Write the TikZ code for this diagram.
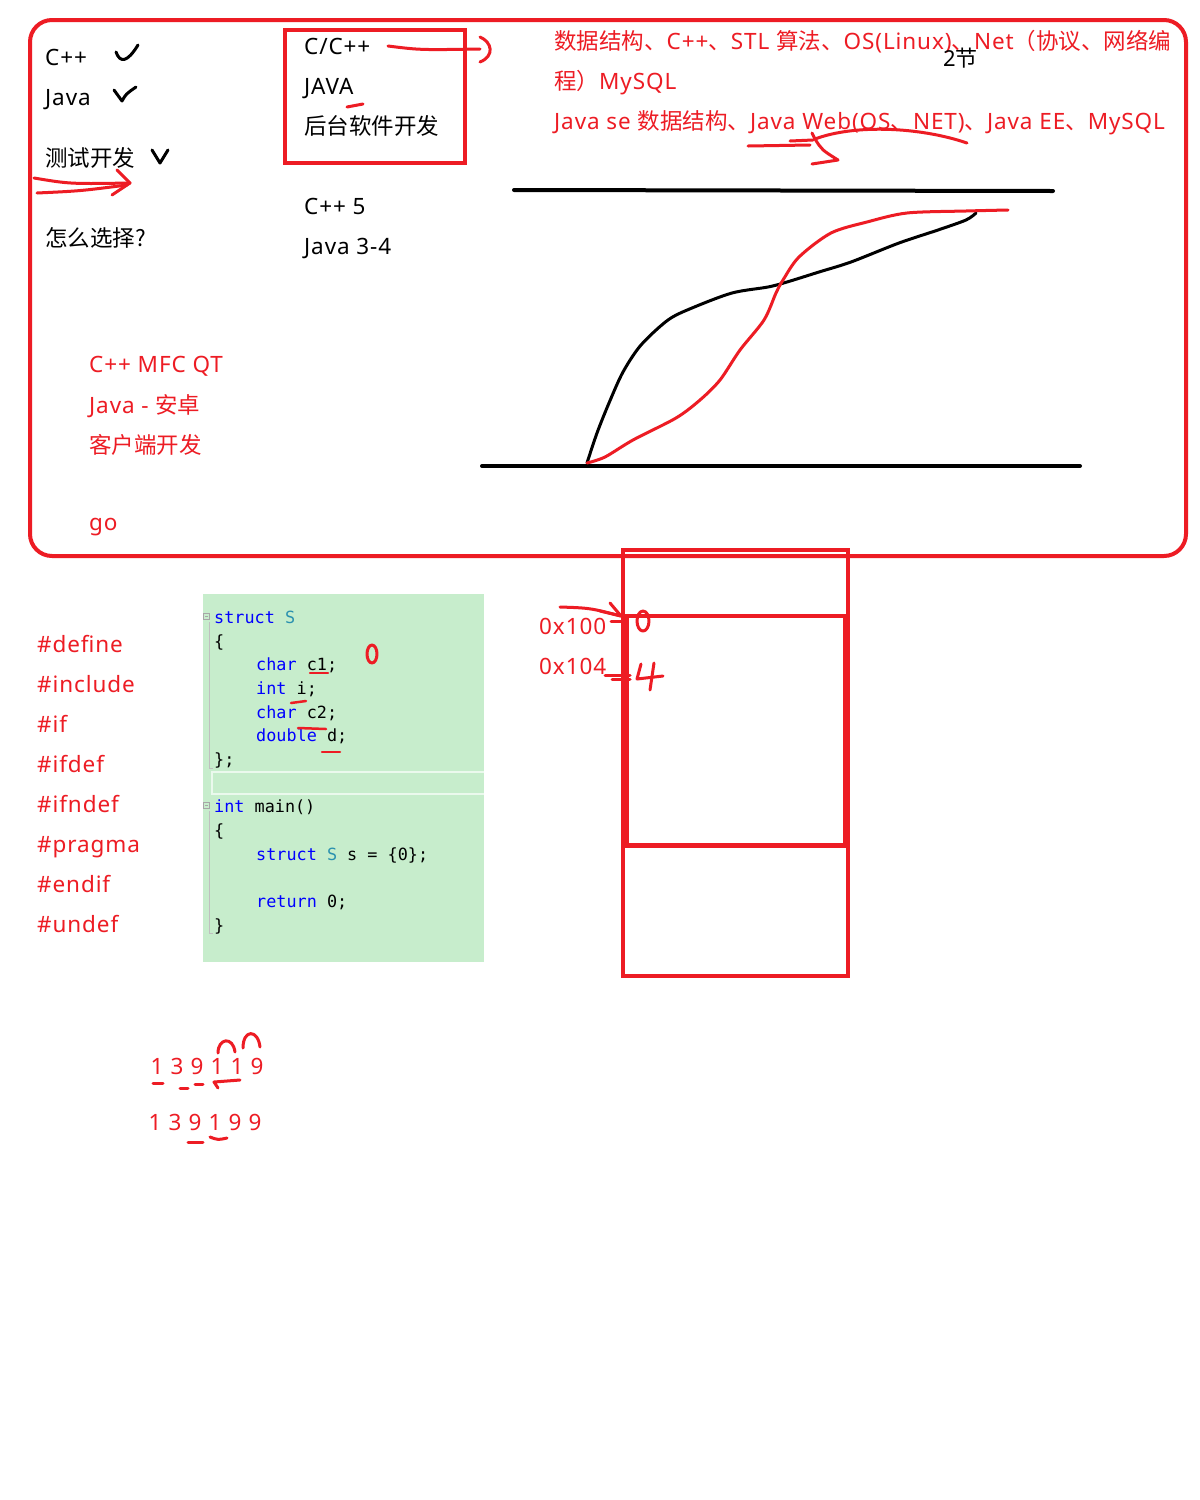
\documentclass[tikz,border=0pt]{standalone}
\usepackage{fontspec}
\setmainfont{Noto Sans}[LetterSpace=4]
\setmonofont{DejaVu Sans Mono}
\newfontfamily\cjk{Noto Sans CJK SC}
\newcommand{\zh}[1]{{\cjk #1}}
\usetikzlibrary{positioning}

\definecolor{inkred}{HTML}{ED1C24}
\definecolor{codebg}{HTML}{C7EDCC}
\definecolor{kwblue}{HTML}{0000FF}
\definecolor{typeteal}{HTML}{2B91AF}

\begin{document}
\begin{tikzpicture}[
    x=1pt, y=-1pt,
    txt/.style={anchor=base west, inner sep=0pt, font=\fontsize{22.5}{27}\selectfont},
    redtxt/.style={txt, text=inkred},
    codetxt/.style={anchor=base west, inner sep=0pt, font=\ttfamily\fontsize{16.8}{20}\selectfont},
    redpen/.style={draw=inkred, line width=3pt, line cap=round, line join=round},
    blackpen/.style={draw=black, line width=3pt, line cap=round, line join=round},
    redframe/.style={draw=inkred, line width=4pt}
]
\fill[white] (0,0) rectangle (1200,1500);
\useasboundingbox (0,0) rectangle (1200,1500);

% big board
\draw[redframe, rounded corners=22pt] (30,20) rectangle (1186,556);

% left column
\node[txt] (cpp) at (45,65) {C++};
\node[txt] (java) at (45,105) {Java};
\node[txt] (ceshi) at (45,166) {\zh{测试开发}};
\node[txt] (choose) at (45,246) {\zh{怎么选择?}};
\draw[blackpen] (116,52) .. controls (120,63) and (127,63) .. (138,45);
\draw[blackpen] (114,90) -- (122,101) .. controls (126,94) .. (136,87);
\draw[blackpen] (152,150) -- (160,163) -- (168,150);
\draw[redpen] (34,178) .. controls (70,184) .. (130,183);
\draw[redpen] (37,193) .. controls (80,191) .. (127,185);
\draw[redpen] (117,170) -- (130,183) -- (112,195);

% backend box
\draw[redframe] (285,30) rectangle (465,163);
\node[txt] (cc) at (304,54) {C/C++};
\node[txt] (jv) at (304,94) {JAVA};
\node[txt] (backend) at (304,134) {\zh{后台软件开发}};
\coordinate (ccend) at (480,49);
\draw[redpen] (388,46) .. controls (420,50) .. (ccend);
\draw[redpen] (480,37) .. controls (492,42) and (495,56) .. (480,62);
\draw[redpen] (347,107) -- (363,104);
\node[txt] (cpp5) at (304,214) {C++ 5};
\node[txt] (java34) at (304,254) {Java 3-4};

% topics
\begin{scope}
\clip (0,0) rectangle (1186,200);
\node[redtxt] (cline1) at (554,49) {\zh{数据结构、}C++\zh{、}STL \zh{算法、}OS(Linux)\zh{、}Net\zh{（协议、网络编}};
\end{scope}
\node[redtxt] (cline2) at (554,89) {\zh{程）}MySQL};
\node[redtxt] (jline) at (554,129) {Java se \zh{数据结构、}Java Web(OS\zh{、}NET)\zh{、}Java EE\zh{、}MySQL};
\node[txt, font=\fontsize{22}{26}\selectfont] (jie) at (943,66) {2\zh{节}};
\draw[redpen] (748,146) -- (810,145);
\draw[redpen] (790,141) -- (813,140);
\draw[redpen] (812,133) -- (815,139) .. controls (855,124) and (920,127) .. (967,143);
\draw[redpen] (815,139) .. controls (822,150) .. (838,160) -- (812,164);

% curves
\draw[blackpen, line width=4pt] (514,190) -- (1053,191);
\draw[blackpen, line width=4pt] (482,466) -- (1080,466);
\draw[blackpen] plot[smooth] coordinates {(587,463) (597,433) (609,403) (623,372) (641,345) (668,320) (692,308) (732,293) (768,287) (787,282) (819,272) (851,262) (899,243) (938,230) (966,220) (976,213)};
\draw[redpen] plot[smooth] coordinates {(587,463) (605,457) (633,440) (676,418) (700,400) (720,380) (740,350) (764,320) (776,293) (783,280) (799,257) (831,233) (867,222) (907,213) (966,211) (1008,210)};

% client side
\node[redtxt] (mfc) at (89,372) {C++ MFC QT};
\node[redtxt] (android) at (89,413) {Java - \zh{安卓}};
\node[redtxt] (client) at (89,453) {\zh{客户端开发}};
\node[redtxt] (golang) at (89,530) {go};

% directives
\node[redtxt] (d1) at (37,652) {\#define};
\node[redtxt] (d2) at (37,692) {\#include};
\node[redtxt] (d3) at (37,732) {\#if};
\node[redtxt] (d4) at (37,772) {\#ifdef};
\node[redtxt] (d5) at (37,812) {\#ifndef};
\node[redtxt] (d6) at (37,852) {\#pragma};
\node[redtxt] (d7) at (37,892) {\#endif};
\node[redtxt] (d8) at (37,932) {\#undef};

% code
\fill[codebg] (203,594) rectangle (484,962);
\draw[white!65!codebg, line width=2pt] (484,772) -- (212,772) -- (212,794) -- (484,794);
\draw[gray!70, line width=0.8pt] (203.5,613.5) rectangle (209.5,619.5) (205,616.5) -- (208,616.5);
\draw[gray!70, line width=0.8pt] (203.5,802.5) rectangle (209.5,808.5) (205,805.5) -- (208,805.5);
\draw[gray!50, line width=0.8pt] (209,622) -- (209,768) -- (213,768);
\draw[gray!50, line width=0.8pt] (209,811) -- (209,933) -- (213,933);
\node[codetxt, text=kwblue] (l0) at (214,623) {struct \textcolor{typeteal}{S}};
\node[codetxt] (l1) at (214,647) {\{};
\node[codetxt] (l2) at (256,670) {\textcolor{kwblue}{char} c1;};
\node[codetxt] (l3) at (256,694) {\textcolor{kwblue}{int} i;};
\node[codetxt] (l4) at (256,718) {\textcolor{kwblue}{char} c2;};
\node[codetxt] (l5) at (256,741) {\textcolor{kwblue}{double} d;};
\node[codetxt] (l6) at (214,765) {\};};
\node[codetxt] (l8) at (214,812) {\textcolor{kwblue}{int} main()};
\node[codetxt] (l9) at (214,836) {\{};
\node[codetxt] (l10) at (256,860) {\textcolor{kwblue}{struct} \textcolor{typeteal}{S} s = \{0\};};
\node[codetxt] (l12) at (256,907) {\textcolor{kwblue}{return} 0;};
\node[codetxt] (l13) at (214,931) {\}};
\draw[redpen] (372,654) ellipse [x radius=5pt, y radius=9pt];
\draw[redpen, line width=2.5pt] (310,673) -- (328,673);
\draw[redpen, line width=2.5pt] (291,703) -- (306,701);
\draw[redpen, line width=2.5pt] (298,728) -- (326,729);
\draw[redpen, line width=2.5pt] (322,752) -- (340,752);

% memory layout
\draw[redframe] (623,550) rectangle (848,976);
\draw[redframe] (627,616) rectangle (845,845);
\draw[redframe] (623,846) -- (848,846);
\node[redtxt] (a100) at (539,634) {0x100};
\node[redtxt] (a104) at (539,674) {0x104};
\coordinate (slot0) at (621,616);
\draw[redpen] (560,607) .. controls (590,608) .. (slot0);
\draw[redpen] (600,611) -- (slot0) -- (610,603);
\draw[redpen] (611,621) -- (623,621);
\draw[redpen] (643,621) ellipse [x radius=6pt, y radius=10pt];
\draw[redpen] (605,675) -- (630,675);
\draw[redpen] (612,679) -- (630,679);
\draw[redpen] (641,664) -- (637,679) -- (663,676);
\draw[redpen] (654,663) -- (650,690);

% digits
\foreach \d [count=\i] in {1,3,9,1,1,9}
  \node[redtxt, anchor=base] (ra\i) at (137+20*\i,1074) {\d};
\foreach \d [count=\i] in {1,3,9,1,9,9}
  \node[redtxt, anchor=base] (rb\i) at (135+20*\i,1130) {\d};
\draw[redpen] (218,1053) .. controls (218,1038) and (233,1036) .. (235,1052);
\draw[redpen] (243,1048) .. controls (243,1029) and (258,1029) .. (260,1047);
\draw[redpen] (153,1083) -- (163,1083);
\draw[redpen] (180,1088) -- (188,1088);
\draw[redpen] (195,1084) -- (203,1084);
\draw[redpen] (240,1080) -- (214,1082) -- (218,1088);
\draw[redpen] (188,1142) -- (203,1142);
\draw[redpen] (210,1137) .. controls (218,1140) .. (227,1138);
\end{tikzpicture}
\end{document}
